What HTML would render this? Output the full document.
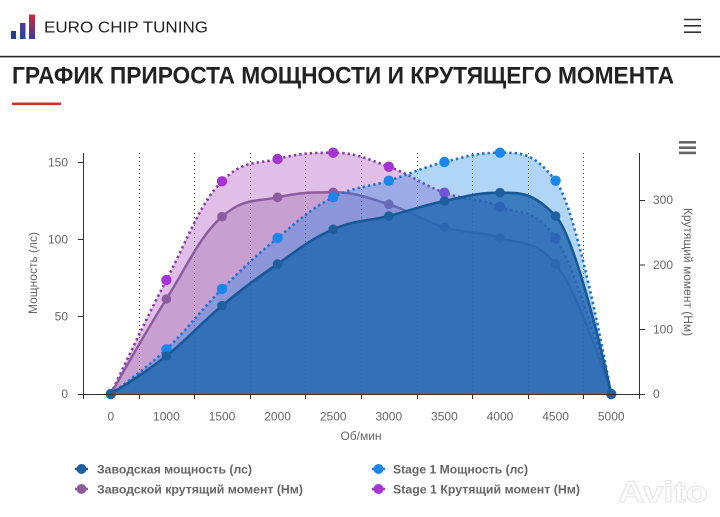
<!DOCTYPE html>
<html><head><meta charset="utf-8">
<style>
html,body{margin:0;padding:0;background:#fff;}
svg{display:block;}
text{font-family:"Liberation Sans","DejaVu Sans",sans-serif;}
</style></head>
<body>
<svg id="s" width="720" height="517" viewBox="0 0 720 517" xmlns="http://www.w3.org/2000/svg">
<defs>
<linearGradient id="g2" x1="0" y1="0" x2="0" y2="1"><stop offset="0" stop-color="#5a3c9a"/><stop offset="1" stop-color="#1f4a9a"/></linearGradient>
<linearGradient id="g3" x1="0" y1="0" x2="0" y2="1"><stop offset="0" stop-color="#d0283a"/><stop offset="1" stop-color="#3a3a92"/></linearGradient>
</defs>
<rect x="0" y="0" width="720" height="517" fill="#fff"/>
<!-- header -->
<rect x="11" y="31" width="5" height="8" fill="#1f3f8a"/>
<rect x="20" y="23" width="5.5" height="16" fill="url(#g2)"/>
<rect x="29" y="14.5" width="6" height="24.5" fill="url(#g3)"/>
<text x="44" y="32.7" font-size="16" fill="#222" textLength="164" lengthAdjust="spacingAndGlyphs">EURO CHIP TUNING</text>
<g stroke="#333" stroke-width="1.6"><line x1="684" y1="19.5" x2="701" y2="19.5"/><line x1="684" y1="25.8" x2="701" y2="25.8"/><line x1="684" y1="32.2" x2="701" y2="32.2"/></g>
<rect x="0" y="55.8" width="720" height="1.6" fill="#2a2a2a"/>
<text x="12" y="83.5" font-size="24" font-weight="bold" fill="#222" textLength="662" lengthAdjust="spacingAndGlyphs">ГРАФИК ПРИРОСТА МОЩНОСТИ И КРУТЯЩЕГО МОМЕНТА</text>
<rect x="12" y="102.5" width="49" height="2.6" fill="#c8332c"/>
<!-- chart menu -->
<g fill="#666"><rect x="679" y="141" width="17" height="2.6"/><rect x="679" y="146.4" width="17" height="2.6"/><rect x="679" y="151.6" width="17" height="2.6"/></g>
<!-- grid -->
<g id="grid" stroke="#444" stroke-width="1" stroke-dasharray="1 3"></g>
<g id="series"></g>
<!-- axes -->
<g stroke="#333" stroke-width="1">
<line x1="83.5" y1="153" x2="83.5" y2="394"/>
<line x1="639.5" y1="153" x2="639.5" y2="394"/>
<line x1="78" y1="394.5" x2="645" y2="394.5"/>
<line x1="78" y1="162.5" x2="83" y2="162.5"/>
<line x1="78" y1="239.5" x2="83" y2="239.5"/>
<line x1="78" y1="316.5" x2="83" y2="316.5"/>
<line x1="640" y1="200.5" x2="645" y2="200.5"/>
<line x1="640" y1="265" x2="645" y2="265"/>
<line x1="640" y1="329.5" x2="645" y2="329.5"/>
</g>
<g id="xt" stroke="#333" stroke-width="1"></g>
<g font-size="12" fill="#666" text-anchor="end">
<text x="68" y="166.5">150</text><text x="68" y="243.5">100</text><text x="68" y="320.5">50</text><text x="68" y="398">0</text>
</g>
<g font-size="12" fill="#666" text-anchor="start">
<text x="653" y="204">300</text><text x="653" y="269">200</text><text x="653" y="333.5">100</text><text x="653" y="398">0</text>
</g>
<g id="xl" font-size="12" fill="#666" text-anchor="middle"></g>
<text x="361" y="440" font-size="12" fill="#666" text-anchor="middle">Об/мин</text>
<text transform="translate(37,273) rotate(-90)" font-size="12" fill="#666" text-anchor="middle">Мощность (лс)</text>
<text transform="translate(684,272) rotate(90)" font-size="12" fill="#666" text-anchor="middle">Крутящий момент (Нм)</text>
<!-- legend -->
<g stroke-width="2.5">
<line x1="75" y1="469" x2="88" y2="469" stroke="#19599b"/><circle cx="81.5" cy="469" r="5" fill="#1d5f9f"/>
<line x1="75" y1="489" x2="88" y2="489" stroke="#8d5c9c"/><circle cx="81.5" cy="489" r="5" fill="#8d5c9c"/>
<line x1="372" y1="469" x2="385" y2="469" stroke="#1e7ad9"/><circle cx="378.5" cy="469" r="5" fill="#1a86ea"/>
<line x1="372" y1="489" x2="385" y2="489" stroke="#9a3ac0"/><circle cx="378.5" cy="489" r="5" fill="#a634d3"/>
</g>
<g font-size="12" font-weight="bold" fill="#666">
<text x="97" y="473.5" textLength="155" lengthAdjust="spacingAndGlyphs">Заводская мощность (лс)</text>
<text x="97" y="493.5" textLength="206" lengthAdjust="spacingAndGlyphs">Заводской крутящий момент (Нм)</text>
<text x="393" y="473.5" textLength="135" lengthAdjust="spacingAndGlyphs">Stage 1 Мощность (лс)</text>
<text x="393" y="493.5" textLength="187" lengthAdjust="spacingAndGlyphs">Stage 1 Крутящий момент (Нм)</text>
</g>
<!-- watermark -->
<text x="618" y="502" font-size="30" font-weight="bold" fill="#fff" stroke="#e2e2e2" stroke-width="1" opacity="0.9" textLength="90" lengthAdjust="spacingAndGlyphs">Avito</text>
</svg>
<script>
(function(){
var NS="http://www.w3.org/2000/svg";
function el(tag,attrs,parent){var e=document.createElementNS(NS,tag);for(var k in attrs)e.setAttribute(k,attrs[k]);parent.appendChild(e);return e;}
var grid=document.getElementById('grid'),xt=document.getElementById('xt'),xl=document.getElementById('xl'),ser=document.getElementById('series');
var step=55.6,x0=83;
for(var i=1;i<10;i++){var x=Math.round(x0+step*i)+0.5;el('line',{x1:x,y1:153,x2:x,y2:394},grid);}
for(var i=0;i<=10;i++){var x=Math.round(x0+step*i)+0.5;el('line',{x1:x,y1:394,x2:x,y2:399},xt);}
var cats=['0','1000','1500','2000','2500','3000','3500','4000','4500','5000'];
var xs=[];for(var i=0;i<10;i++){xs.push(x0+step/2+step*i);var t=el('text',{x:xs[i],y:420.5},xl);t.textContent=cats[i];}
function spline(ys){
 var p=xs.map(function(x,i){return {x:x,y:ys[i]};});
 var d='M'+p[0].x+','+p[0].y,s=1.5,den=2.5;
 for(var i=1;i<p.length;i++){
  var c=p[i],l=p[i-1],n=p[i+1],lcx,lcy,rcx,rcy;
  if(n){
   lcx=(s*c.x+l.x)/den;lcy=(s*c.y+l.y)/den;rcx=(s*c.x+n.x)/den;rcy=(s*c.y+n.y)/den;
   var corr=0;if(rcx!==lcx)corr=((rcy-lcy)*(rcx-c.x))/(rcx-lcx)+c.y-rcy;
   lcy+=corr;rcy+=corr;
   if(lcy>l.y&&lcy>c.y){lcy=Math.max(l.y,c.y);rcy=2*c.y-lcy;}
   else if(lcy<l.y&&lcy<c.y){lcy=Math.min(l.y,c.y);rcy=2*c.y-lcy;}
   if(rcy>n.y&&rcy>c.y){rcy=Math.max(n.y,c.y);lcy=2*c.y-rcy;}
   else if(rcy<n.y&&rcy<c.y){rcy=Math.min(n.y,c.y);lcy=2*c.y-rcy;}
   c.rcx=rcx;c.rcy=rcy;
  }else{lcx=c.x;lcy=c.y;}
  d+=' C'+(l.rcx!==undefined?l.rcx:l.x)+','+(l.rcy!==undefined?l.rcy:l.y)+' '+lcx+','+lcy+' '+c.x+','+c.y;
 }
 return d;
}
var S=[
 {ys:[394,280,181.3,159,152.7,166.7,192.7,206.7,238.3,394],fill:'#9c27b0',fo:0.3,line:'#8a3cab',lw:2.6,dash:'2.4 3',mk:'#a634d3',r:5.2},
 {ys:[394,299,216.7,197.3,192.3,204.3,227.3,238,264,394],fill:'#8e5a9e',fo:0.3,line:'#8d5c9c',lw:2.5,dash:null,mk:'#8d5c9c',r:4.8},
 {ys:[394,349.3,289,238,197.3,180.7,162,152.7,180.7,394],fill:'#1e88e5',fo:0.35,line:'#1e72d2',lw:2.6,dash:'2.4 3',mk:'#1a86ea',r:5.2},
 {ys:[394,356,305.7,264,229.3,216,201,192.7,216,394],fill:'#1e66b0',fo:0.8,line:'#17589a',lw:2.6,dash:null,mk:'#1d5f9f',r:4.8}
];
S.forEach(function(s){
 var g=el('g',{},ser);
 var d=spline(s.ys);
 el('path',{d:d+' Z',fill:s.fill,'fill-opacity':s.fo,stroke:'none'},g);
 var a={d:d,fill:'none',stroke:s.line,'stroke-width':s.lw,'stroke-linejoin':'round'};
 if(s.dash)a['stroke-dasharray']=s.dash;
 el('path',a,g);
 s.ys.forEach(function(y,i){el('circle',{cx:xs[i],cy:y,r:s.r,fill:s.mk},g);});
});
})();
</script>
</body></html>
